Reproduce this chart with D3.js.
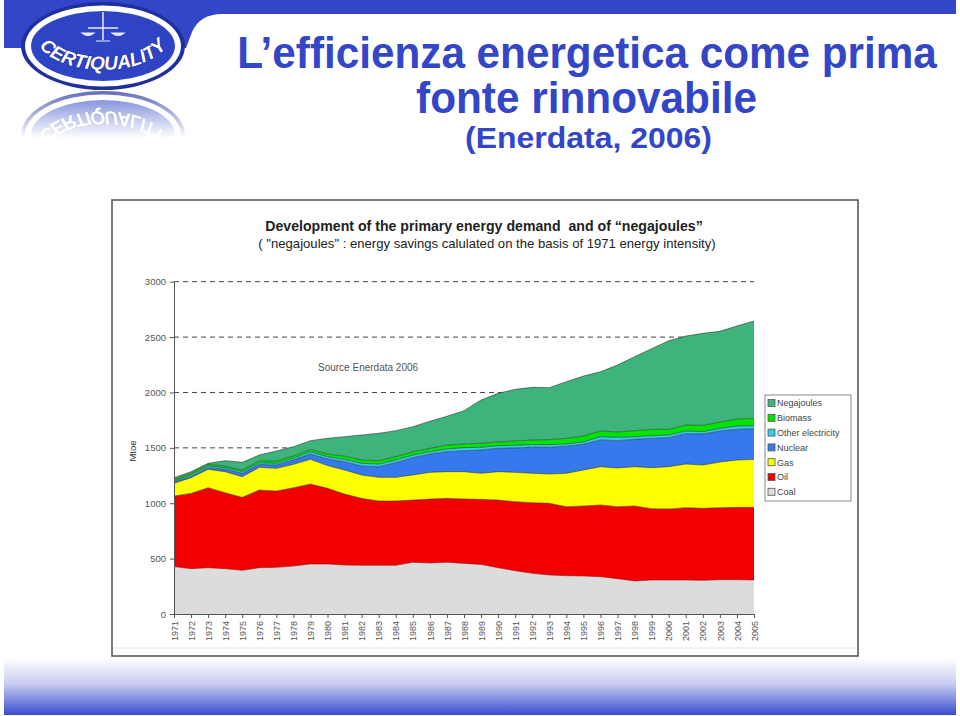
<!DOCTYPE html>
<html><head><meta charset="utf-8">
<script src="https://cdn.jsdelivr.net/npm/d3@7"></script>
<style>body{margin:0;background:#fff;} svg{display:block;}</style>
</head><body>
<svg id="c" width="960" height="716"></svg>
<script>
// ---------- DATA (Mtoe) ----------
const years = ["1971","1972","1973","1974","1975","1976","1977","1978","1979","1980","1981","1982","1983","1984","1985","1986","1987","1988","1989","1990","1991","1992","1993","1994","1995","1996","1997","1998","1999","2000","2001","2002","2003","2004","2005"];
const coal     = [428,409,418,409,394,418,421,433,451,451,442,439,439,439,467,460,467,457,448,418,391,367,352,346,343,337,319,298,307,307,307,304,310,310,307];
const oil      = [637,680,722,686,659,701,689,707,722,684,641,605,581,581,562,578,577,581,587,611,623,638,647,623,632,647,650,677,644,641,653,650,650,653,656];
const gas      = [115,142,166,190,187,205,205,211,223,205,217,211,214,214,226,241,241,247,235,256,265,265,265,301,325,346,349,355,370,382,394,391,412,427,433];
const nuclear  = [15,9,15,21,30,27,30,39,48,60,75,81,96,132,156,165,180,189,210,211,220,235,241,245,233,241,247,247,265,262,274,280,280,277,277];
const otherEl  = [9,15,15,15,15,15,15,15,21,20,21,24,24,24,24,21,25,28,25,24,24,24,24,20,20,30,30,24,24,24,24,21,24,30,27];
const biomass  = [12,15,15,15,15,18,21,21,21,25,30,30,30,30,30,30,36,33,36,33,39,42,45,51,54,51,48,54,57,51,54,57,57,63,66];
const negajoules = [15,15,9,48,69,51,90,84,79,141,175,226,247,235,226,245,259,300,391,439,466,475,469,511,541,535,605,668,728,800,803,831,819,840,879];

const seriesNames = ["Coal","Oil","Gas","Nuclear","Other electricity","Biomass","Negajoules"];
const seriesVals  = [coal, oil, gas, nuclear, otherEl, biomass, negajoules];
const seriesColors = ["#dcdcdc","#f20000","#ffff00","#3579ec","#33c8ee","#00e400","#3db47c"];
const yTicks = [0,500,1000,1500,2000,2500,3000];

const titleLines = ["L\u2019efficienza energetica come prima","fonte rinnovabile","(Enerdata, 2006)"];
const chartTitle = "Development of the primary energy demand  and of \u201cnegajoules\u201d";
const chartSub = "( \"negajoules\" : energy savings calulated on the basis of 1971 energy intensity)";

// ---------- SLIDE DECORATION ----------
const svg = d3.select("#c");
const defs = svg.append("defs");
const BLUE = "#3346c8";

const bg = defs.append("linearGradient").attr("id","bg").attr("x1",0).attr("y1",0).attr("x2",0).attr("y2",1);
bg.append("stop").attr("offset","0%").attr("stop-color","#ffffff");
bg.append("stop").attr("offset","45%").attr("stop-color","#c9cdf0");
bg.append("stop").attr("offset","100%").attr("stop-color","#3a4dd0");
svg.append("rect").attr("x",4).attr("y",658).attr("width",952).attr("height",57).attr("fill","url(#bg)");

// top band
svg.append("path").attr("d","M4,0 L956,0 L956,14 L222,14 Q200,14 192,32 L186,48 L4,48 Z").attr("fill",BLUE);

// logo
const logo = svg.append("g").attr("id","logo");
logo.append("ellipse").attr("cx",103).attr("cy",46).attr("rx",82).attr("ry",44).attr("fill","#1f2f9e");
logo.append("ellipse").attr("cx",103).attr("cy",46).attr("rx",78).attr("ry",40.5).attr("fill","#ffffff");
logo.append("ellipse").attr("cx",103).attr("cy",46).attr("rx",72).attr("ry",35).attr("fill","#2e44c4");
logo.append("line").attr("x1",103).attr("x2",103).attr("y1",12).attr("y2",40).attr("stroke","#e8ecff").attr("stroke-width",1.5);
logo.append("line").attr("x1",88).attr("x2",118).attr("y1",28).attr("y2",28).attr("stroke","#e8ecff").attr("stroke-width",1.5);
logo.append("path").attr("d","M82,33 Q88,38 94,33 Z M112,33 Q118,38 124,33 Z M96,41 L110,41").attr("fill","#e8ecff").attr("stroke","#e8ecff").attr("stroke-width",1.2);
defs.append("path").attr("id","arc").attr("d","M36,40 A68,36 0 0,0 170,40");
logo.append("text").attr("font-family","Liberation Sans, Arial, sans-serif").attr("font-weight","bold").attr("font-style","italic")
  .attr("font-size",19).attr("fill","#ffffff").attr("stroke","#1f2f9e").attr("stroke-width",1.2).attr("paint-order","stroke")
  .append("textPath").attr("href","#arc").attr("startOffset","50%").attr("text-anchor","middle").text("CERTIQUALITY");

// reflection
const rg = defs.append("linearGradient").attr("id","rg").attr("x1",0).attr("y1",0).attr("x2",0).attr("y2",1);
rg.append("stop").attr("offset","0%").attr("stop-color","#fff").attr("stop-opacity",0.75);
rg.append("stop").attr("offset","100%").attr("stop-color","#fff").attr("stop-opacity",0);
const mask = defs.append("mask").attr("id","rm").attr("maskUnits","userSpaceOnUse").attr("x",0).attr("y",88).attr("width",220).attr("height",52);
mask.append("rect").attr("x",0).attr("y",88).attr("width",220).attr("height",50).attr("fill","url(#rg)");
svg.append("g").attr("mask","url(#rm)").append("use").attr("href","#logo").attr("transform","translate(0,181) scale(1,-1)");

// helper: centered text condensed/stretched to a target width
function fitText(parent, t, cx, yb, w, size, weight, fill, family){
  const g = parent.append("g");
  const tx = g.append("text").attr("x",0).attr("y",0).attr("text-anchor","middle").attr("font-family",family)
    .attr("font-weight",weight).attr("font-size",size).attr("fill",fill).style("white-space","pre").text(t);
  const nat = tx.node().getComputedTextLength() || w;
  g.attr("transform",`translate(${cx},${yb}) scale(${w/nat},1)`);
}

// titles
const tf = "'Liberation Sans', Arial, sans-serif";
const tspec = [{cx:587,y:68,w:700,s:44},{cx:586.5,y:113,w:341,s:44},{cx:588.5,y:148,w:247,s:30}];
titleLines.forEach((t,i)=> fitText(svg, t, tspec[i].cx, tspec[i].y, tspec[i].w, tspec[i].s, "bold", BLUE, tf));

// ---------- CHART ----------
svg.append("rect").attr("x",112).attr("y",200).attr("width",746).attr("height",456).attr("fill","#fff").attr("stroke","#5a5a5a").attr("stroke-width",1.6);
svg.append("line").attr("x1",113).attr("x2",857).attr("y1",648).attr("y2",648).attr("stroke","#e4e4e4").attr("stroke-width",1);

const cf = "'Liberation Sans', Arial, sans-serif";
fitText(svg, chartTitle, 484, 231, 438, 14, "bold", "#222", cf);
fitText(svg, chartSub, 487, 248, 458, 12.5, "normal", "#222", cf);

const x = d3.scalePoint().domain(years).range([174,754]);
const y = d3.scaleLinear().domain([0,3000]).range([614,281.7]);

// gridlines
svg.append("g").selectAll("line").data(yTicks.filter(d=>d>0)).join("line")
  .attr("x1",174).attr("x2",754).attr("y1",d=>y(d)).attr("y2",d=>y(d))
  .attr("stroke","#444").attr("stroke-width",1).attr("stroke-dasharray","5,4");

// stacked areas
const rows = years.map((yr,i)=>{ const o={year:yr}; seriesNames.forEach((n,k)=>o[n]=seriesVals[k][i]); return o; });
const stack = d3.stack().keys(seriesNames)(rows);
const area = d3.area().x(d=>x(d.data.year)).y0(d=>y(d[0])).y1(d=>y(d[1]));
const topLine = d3.line().x(d=>x(d.data.year)).y(d=>y(d[1]));
svg.append("g").selectAll("path").data(stack).join("path").attr("d",area).attr("fill",(d,i)=>seriesColors[i]);
svg.append("g").selectAll("path").data(stack).join("path").attr("d",topLine).attr("fill","none")
  .attr("stroke",(d,i)=> i===0 ? "#8a1010" : "#2a2a2a").attr("stroke-width",0.8).attr("stroke-opacity",0.7);

// axes
const yAxis = svg.append("g").attr("transform","translate(174,0)").call(d3.axisLeft(y).tickValues(yTicks).tickFormat(d3.format("d")).tickSize(4).tickSizeOuter(0).tickPadding(4));
yAxis.selectAll("text").attr("font-family",cf).attr("font-size",9.5).attr("fill","#555");
yAxis.selectAll("line,path").attr("stroke","#555");
const xAxis = svg.append("g").attr("transform","translate(0,614)").call(d3.axisBottom(x).tickSize(4).tickSizeOuter(0));
xAxis.selectAll("text").attr("font-family",cf).attr("font-size",9).attr("fill","#555")
  .attr("transform","rotate(-90)").attr("x",-7).attr("y",0).attr("dy","0.35em").style("text-anchor","end");
xAxis.selectAll("line,path").attr("stroke","#555");

svg.append("text").attr("transform","translate(136,451) rotate(-90)").attr("text-anchor","middle").attr("font-family",cf).attr("font-size",9.5).attr("fill","#333").text("Mtoe");
svg.append("text").attr("x",318).attr("y",371).attr("font-family",cf).attr("font-size",10).attr("fill","#555").text("Source Enerdata 2006");

// legend
const lg = svg.append("g");
lg.append("rect").attr("x",765).attr("y",395).attr("width",86).attr("height",106).attr("fill","#fff").attr("stroke","#8a8a8a").attr("stroke-width",1);
const legOrder = [6,5,4,3,2,1,0];
legOrder.forEach((k,j)=>{
  const yy = 403 + j*14.8;
  lg.append("rect").attr("x",768).attr("y",yy-3.5).attr("width",7).attr("height",7).attr("fill",seriesColors[k]).attr("stroke","#555").attr("stroke-width",0.8);
  lg.append("text").attr("x",777).attr("y",yy+3.3).attr("font-family",cf).attr("font-size",9).attr("fill","#444").text(seriesNames[k]);
});
</script>
</body></html>
